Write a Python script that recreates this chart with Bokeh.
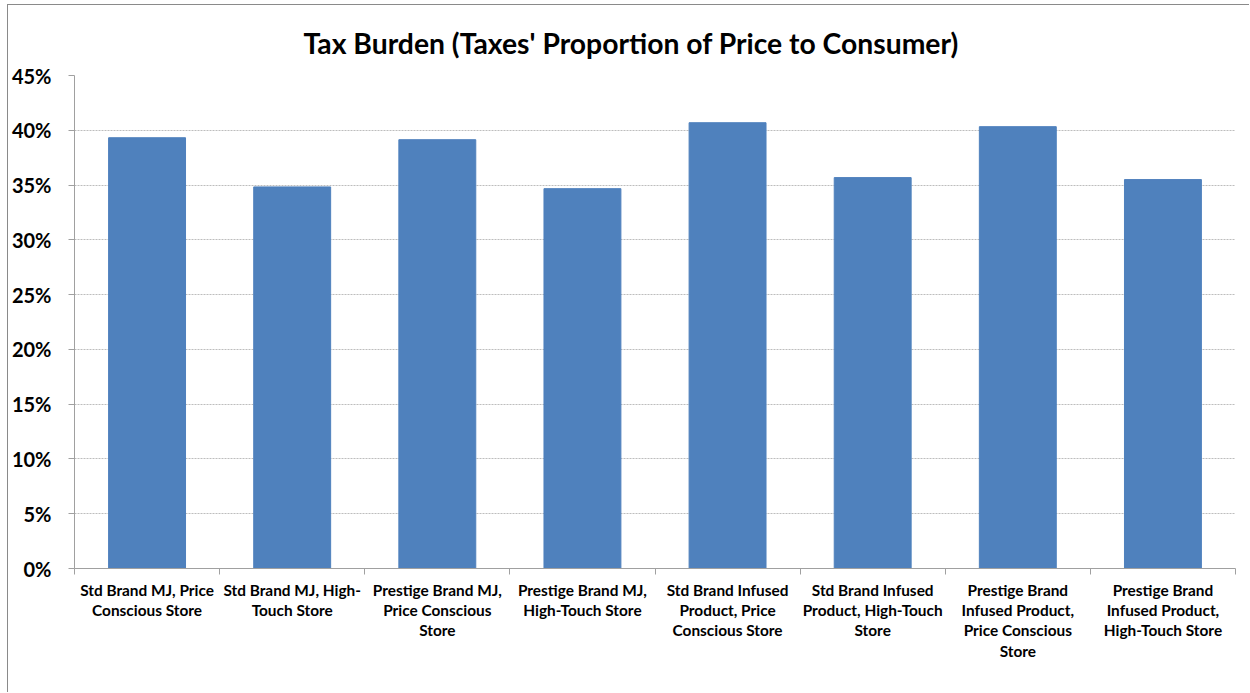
from bokeh.plotting import figure
from bokeh.models import FixedTicker, NumeralTickFormatter, Range1d
from bokeh.embed import file_html
from bokeh.resources import INLINE

categories = [
    "Std Brand MJ, Price\nConscious Store",
    "Std Brand MJ, High-\nTouch Store",
    "Prestige Brand MJ,\nPrice Conscious\nStore",
    "Prestige Brand MJ,\nHigh-Touch Store",
    "Std Brand Infused\nProduct, Price\nConscious Store",
    "Std Brand Infused\nProduct, High-Touch\nStore",
    "Prestige Brand\nInfused Product,\nPrice Conscious\nStore",
    "Prestige Brand\nInfused Product,\nHigh-Touch Store",
]
tax_share = [0.3932, 0.3483, 0.3914, 0.3467, 0.4069, 0.3568, 0.4033, 0.3550]
y_ticks = [0.0, 0.05, 0.10, 0.15, 0.20, 0.25, 0.30, 0.35, 0.40, 0.45]

FONT = "Lato"
n = len(categories)
centers = [i + 0.5 for i in range(n)]

p = figure(width=1242, height=688, output_backend="svg", toolbar_location=None,
           x_range=Range1d(0, n), y_range=Range1d(0, 0.45),
           min_border_left=65, min_border_right=15, min_border_top=70, min_border_bottom=125)
p.margin = (4, 0, 0, 7)
p.styles = {"border-left": "1px solid #8A8A8A", "border-top": "1px solid #8A8A8A"}

p.vbar(x=centers, top=tax_share, width=0.53, fill_color="#4F81BD", line_color="#4F81BD")

p.title.text = "Tax Burden (Taxes' Proportion of Price to Consumer)"
p.title.align = "left"
p.title.offset = 229
p.title.text_font = FONT
p.title.text_font_style = "bold"
p.title.text_font_size = "28.3px"
p.title.text_color = "black"
p.title.text_line_height = 0.8
p.title.standoff = 32

p.outline_line_color = None
p.background_fill_color = "white"
p.border_fill_color = "white"

# y axis
p.yaxis.ticker = FixedTicker(ticks=y_ticks)
p.yaxis.formatter = NumeralTickFormatter(format="0%")
p.yaxis.major_label_text_font = FONT
p.yaxis.major_label_text_font_style = "bold"
p.yaxis.major_label_text_font_size = "20px"
p.yaxis.major_label_text_color = "black"
p.yaxis.major_tick_out = 6
p.yaxis.major_tick_in = 0
p.yaxis.minor_tick_line_color = None
p.yaxis.axis_line_color = "#A0A0A0"
p.yaxis.major_tick_line_color = "#A0A0A0"
p.yaxis.major_label_standoff = 17

# x axis
p.xaxis.ticker = FixedTicker(ticks=centers, minor_ticks=list(range(n + 1)))
p.xaxis.major_label_overrides = {c: lab for c, lab in zip(centers, categories)}
p.xaxis.major_tick_line_color = None
p.xaxis.minor_tick_out = 6
p.xaxis.minor_tick_in = 0
p.xaxis.minor_tick_line_color = "#A0A0A0"
p.xaxis.axis_line_color = "#A0A0A0"
p.xaxis.major_label_text_font = FONT
p.xaxis.major_label_text_font_style = "bold"
p.xaxis.major_label_text_font_size = "15.4px"
p.xaxis.major_label_text_color = "black"
p.xaxis.major_label_text_line_height = 1.13
p.xaxis.major_label_standoff = 6

p.xgrid.grid_line_color = None
p.ygrid.grid_line_color = "#BDBDBD"
p.ygrid.grid_line_dash = "2 1"
p.ygrid.ticker = FixedTicker(ticks=y_ticks[1:])

open("out.html", "w").write(file_html(p, INLINE))
